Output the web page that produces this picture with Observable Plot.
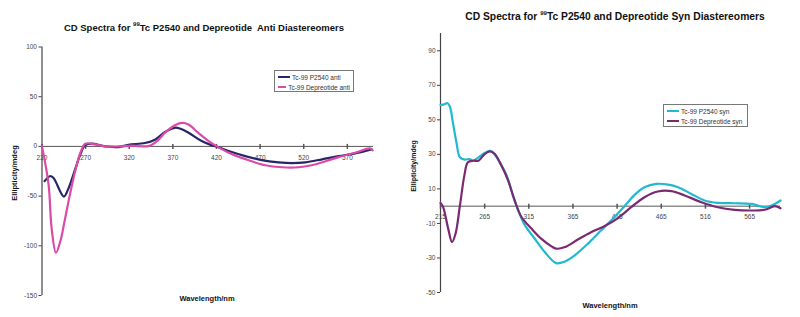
<!DOCTYPE html>
<html><head><meta charset="utf-8">
<script src="https://cdn.jsdelivr.net/npm/d3@7"></script>
<script src="https://cdn.jsdelivr.net/npm/@observablehq/plot@0.6"></script>
<style>
body{margin:0;background:#fff;}
#wrap{position:relative;width:800px;height:317px;font-family:"Liberation Sans",Arial,sans-serif;color:#111;overflow:hidden;}
.plot{position:absolute;top:0;}
.title{position:absolute;font-weight:bold;font-size:9.5px;white-space:nowrap;transform:translate(-50%,-50%);}
.title sup{font-size:6px;}
.ylab{position:absolute;font-weight:bold;font-size:7.5px;white-space:nowrap;transform:translate(-50%,-50%) rotate(-90deg);}
.xlab{position:absolute;font-weight:bold;font-size:7.5px;white-space:nowrap;transform:translate(-50%,-50%);}
.legend{position:absolute;border:1px solid #777;background:#fff;font-size:6.5px;color:#333;box-sizing:border-box;padding:1px 3px;}
.legend div{display:flex;align-items:center;height:10px;white-space:nowrap;}
.legend span.sw{display:inline-block;width:12px;height:2px;margin-right:2px;}
</style></head>
<body><div id="wrap"></div>
<script>
// ---- Left chart: anti diastereomers ----
const antiXTicks = [220, 270, 320, 370, 420, 470, 520, 570];
const antiXLabels = ["220", "270", "320", "370", "420", "470", "520", "570"];
const antiYTicks = [100, 50, 0, -50, -100, -150];
const antiP2540Wl = [223, 229, 233, 245, 250, 258, 264, 269.5, 277, 292.5, 308, 319, 338, 350, 361, 373, 378, 388, 403, 415, 422, 434, 453, 472, 491, 506, 522, 541, 560, 579, 598];
const antiP2540 = [-35, -30, -31.6, -50.5, -43, -23, -8, 1.3, 2.7, 0, -0.7, 1.7, 3.4, 7, 14.5, 18.9, 18, 13.8, 5.4, 1, -0.7, -4.7, -9.8, -13.8, -16, -16.8, -16, -13, -9.8, -7, -3];
const antiDepWl = [220, 227.5, 231, 236, 241, 246.6, 252, 258, 264, 269.5, 281, 292.5, 308, 323, 342, 352, 361, 373, 380.5, 388, 399, 411, 422, 438, 457, 476, 495, 514, 529, 545, 560, 579, 596, 599];
const antiDep = [0, -38, -82, -107, -95.6, -72, -48.5, -25, -6.4, 2.7, 2, 0, 0, 0.7, 0.3, 5.4, 13.8, 21.5, 23.6, 22, 13.8, 5.4, -0.7, -8, -14, -19, -21, -21, -19, -15, -10.8, -6.4, -2, -4];

// ---- Right chart: syn diastereomers ----
const synXTicks = [215, 265, 315, 365, 415, 465, 515, 565];
const synXLabels = ["215", "265", "315", "365", "415", "465", "516", "565"];
const synYTicks = [90, 70, 50, 30, 10, -10, -30, -50];
const synP2540Wl = [215, 218, 223, 225.6, 229, 233, 237, 242.5, 248, 252, 258, 265, 271, 274.6, 282, 290, 297, 303, 310.5, 322, 333, 346, 356, 367, 382, 397, 412, 424, 435, 446, 459.5, 472.7, 484, 499, 514, 529, 548, 567, 582, 590, 600];
const synP2540 = [58.5, 58.8, 59.6, 57.7, 48.5, 37, 28.3, 27, 27.3, 26.3, 28.3, 30.8, 32, 31, 25.4, 17.7, 6.2, -2.5, -11, -19, -26.5, -33, -32, -28.5, -21.7, -14, -6.3, 0.4, 6.7, 11, 12.9, 12.5, 11, 7.1, 3.3, 1.9, 1.7, 1.3, -0.6, 0.4, 3.3];
const synDepWl = [215, 218, 223.7, 228, 232, 237, 242, 246, 252, 258, 265, 271, 276.5, 284, 291.6, 299, 306.7, 318, 329, 340.7, 346, 356, 371, 386, 401, 416, 431, 446, 461, 476.5, 491.5, 510.5, 529, 548, 567, 582, 593.5, 600];
const synDep = [1.9, -0.6, -13, -20.8, -16, 0.4, 17.7, 25.4, 26.3, 26.3, 30.2, 31.7, 30.2, 23.5, 14.8, 3.3, -6.3, -13, -18.8, -23.3, -24.6, -23.7, -19.2, -15, -11.5, -6.9, -0.6, 5.2, 8.5, 8.7, 6.2, 2.3, -0.6, -2.1, -2.5, -2.1, 0, -1.2];

const rows = (xs, ys) => d3.zip(xs, ys).map(([x, y]) => ({x, y}));
const tickSymbol = {draw(ctx) { ctx.moveTo(0, -2.5); ctx.lineTo(0, 2.5); }};

function chart({xDomain, yDomain, xTicks, xLabels, yTicks, series, m, labelDy}) {
  return Plot.plot({
    width: 400, height: 317,
    marginLeft: m[3], marginRight: m[1], marginTop: m[0], marginBottom: m[2],
    style: {fontFamily: "Liberation Sans, Arial, sans-serif", background: "transparent"},
    x: {domain: xDomain, axis: null},
    y: {domain: yDomain, axis: null},
    marks: [
      Plot.axisY(yTicks, {label: null, tickSize: 3, tickPadding: 2, fontSize: 6.5, fill: "#444", stroke: "#444", tickFormat: d => String(d)}),
      Plot.ruleX([xDomain[0]], {stroke: "#444", strokeWidth: 1.2}),
      Plot.ruleY([0], {stroke: "#555", strokeWidth: 1}),
      Plot.dot(xTicks, {x: d => d, y: 0, symbol: tickSymbol, stroke: "#555", fill: "none", r: 3}),
      Plot.text(xTicks, {x: d => d, y: 0, dy: labelDy, text: (d, i) => xLabels[i], fontSize: 6.5, fill: "#444"}),
      ...series.map(s => Plot.line(rows(s.wl, s.v), {x: "x", y: "y", stroke: s.color, strokeWidth: 2.2, curve: "catmull-rom"}))
    ]
  });
}

const wrap = document.getElementById("wrap");

const left = chart({
  xDomain: [220, 600], yDomain: [-150, 100],
  xTicks: antiXTicks, xLabels: antiXLabels, yTicks: antiYTicks,
  m: [46.5, 27, 22, 41.5], labelDy: 12,
  series: [
    {wl: antiP2540Wl, v: antiP2540, color: "#262668"},
    {wl: antiDepWl, v: antiDep, color: "#dc4aa8"}
  ]
});
left.classList.add("plot"); left.style.left = "0px";
wrap.appendChild(left);

const right = chart({
  xDomain: [215, 600], yDomain: [-50, 100],
  xTicks: synXTicks, xLabels: synXLabels, yTicks: synYTicks,
  m: [33, 20, 25, 40], labelDy: 11,
  series: [
    {wl: synP2540Wl, v: synP2540, color: "#22b9cf"},
    {wl: synDepWl, v: synDep, color: "#7a2a72"}
  ]
});
right.classList.add("plot"); right.style.left = "400px";
wrap.appendChild(right);

function addDiv(cls, html, x, y, extra) {
  const d = document.createElement("div");
  d.className = cls; d.innerHTML = html;
  d.style.left = x + "px"; d.style.top = y + "px";
  if (extra) Object.assign(d.style, extra);
  wrap.appendChild(d);
  return d;
}
addDiv("title", "CD Spectra for <sup>99</sup>Tc P2540 and Depreotide&nbsp; Anti Diastereomers", 204, 27);
addDiv("title", "CD Spectra for <sup>99</sup>Tc P2540 and Depreotide Syn Diastereomers", 615, 16, {fontSize: "10.3px"});
addDiv("ylab", "Ellipticity/mdeg", 14, 173);
addDiv("ylab", "Ellipticity/mdeg", 413, 166, {fontSize: "7px"});
addDiv("xlab", "Wavelength/nm", 207, 298);
addDiv("xlab", "Wavelength/nm", 610, 305);

function legend(x, y, w, h, items) {
  const html = items.map(it => `<div><span class="sw" style="background:${it.color}"></span>${it.label}</div>`).join("");
  addDiv("legend", html, x, y, {width: w + "px", height: h + "px"});
}
legend(274, 70, 80, 22, [
  {label: "Tc-99 P2540 anti", color: "#262668"},
  {label: "Tc-99 Depreotide anti", color: "#dc4aa8"}
]);
legend(663, 104, 85, 23, [
  {label: "Tc-99 P2540 syn", color: "#22b9cf"},
  {label: "Tc-99 Depreotide syn", color: "#7a2a72"}
]);
</script></body></html>
